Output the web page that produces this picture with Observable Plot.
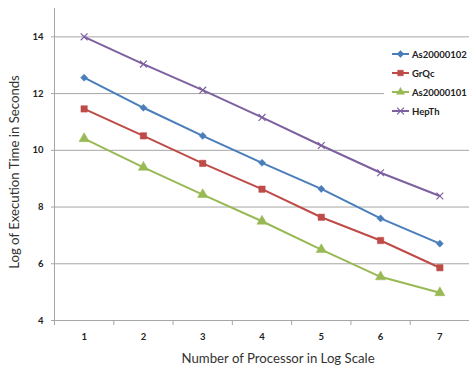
<!DOCTYPE html>
<html>
<head>
<meta charset="utf-8">
<script src="https://cdn.jsdelivr.net/npm/d3@7"></script>
<script src="https://cdn.jsdelivr.net/npm/@observablehq/plot@0.6"></script>
<style>
  body { margin: 0; background: #fff; }
  #wrap { position: relative; width: 469px; height: 369px; font-family: Lato, "Open Sans", sans-serif; }
  #legend { position: absolute; left: 384px; top: 44px; width: 85px; height: 76px; background: #fff; }
  .lg { position: absolute; left: 8px; height: 14px; display: flex; align-items: center; font-size: 9.5px; font-weight: bold; color: #222; }
  .lg svg { margin-right: 3px; }
  .xt { position: absolute; font-size: 13.2px; color: #333; white-space: nowrap; }
</style>
</head>
<body>
<div id="wrap"></div>
<script>
const processors = [1, 2, 3, 4, 5, 6, 7];
const seriesNames = ["As20000102", "GrQc", "As20000101", "HepTh"];
const as20000102 = [12.56, 11.50, 10.51, 9.56, 8.64, 7.60, 6.71];
const grqc       = [11.46, 10.51, 9.54, 8.63, 7.64, 6.82, 5.86];
const as20000101 = [10.41, 9.40, 8.44, 7.50, 6.50, 5.54, 4.98];
const hepth      = [14.00, 13.04, 12.12, 11.16, 10.17, 9.21, 8.39];
const yTicks = [4, 6, 8, 10, 12, 14];
const colors = ["#4a7ebb", "#be4b48", "#98b954", "#7d60a0"];
const symbols = ["diamond2", "square", "triangle", "times"];
const symbolR = [3.2, 3.6, 3.8, 3.2];
const xTitle = "Number of Processor in Log Scale";
const yTitle = "Log of Execution Time in Seconds";

const allValues = [as20000102, grqc, as20000101, hepth];
const data = [];
seriesNames.forEach((s, i) => processors.forEach((p, j) => data.push({series: s, x: p, y: allValues[i][j], idx: i})));

const bounds = processors.map(p => p - 0.5).concat([processors[processors.length - 1] + 0.5]);

const chart = Plot.plot({
  width: 469,
  height: 369,
  marginLeft: 54,
  marginRight: 0,
  marginTop: 8,
  marginBottom: 49,
  style: {fontFamily: "Lato, 'Open Sans', sans-serif", background: "#fff"},
  x: {type: "linear", domain: [0.5, 7.5]},
  y: {domain: [4, 15]},
  color: {domain: seriesNames, range: colors},
  symbol: {domain: seriesNames, range: symbols},
  marks: [
    Plot.ruleY(yTicks.filter(t => t > 4), {stroke: "#a6a6a6", strokeWidth: 1}),
    Plot.ruleY([4], {stroke: "#a6a6a6", strokeWidth: 1}),
    Plot.ruleX([0.5], {y1: 4, y2: 15, stroke: "#a6a6a6", strokeWidth: 1}),
    Plot.axisY({ticks: yTicks, tickSize: 3, tickPadding: 8, stroke: "#a6a6a6", fill: "#222", fontSize: 9.5, fontWeight: "bold", label: null}),
    Plot.axisX({ticks: bounds, tickSize: 5, tickFormat: () => "", stroke: "#a6a6a6", label: null}),
    Plot.axisX({ticks: processors, tickSize: 0, tickPadding: 13, tickFormat: d => String(d), fill: "#222", fontSize: 9.5, fontWeight: "bold", label: null}),
    Plot.line(data, {x: "x", y: "y", z: "series", stroke: "series", strokeWidth: 2}),
    ...seriesNames.map((s, i) => Plot.dot(data.filter(d => d.series === s), {
      x: "x", y: "y", symbol: "series", r: symbolR[i],
      fill: symbols[i] === "times" ? "none" : colors[i],
      stroke: colors[i], strokeWidth: symbols[i] === "times" ? 1.2 : 0.5
    }))
  ]
});

const wrap = document.getElementById("wrap");
wrap.appendChild(chart);

// axis titles
const xt = document.createElement("div");
xt.className = "xt";
xt.textContent = xTitle;
wrap.appendChild(xt);
xt.style.left = (278 - xt.offsetWidth / 2) + "px";
xt.style.top = "350px";

const yt = document.createElement("div");
yt.className = "xt";
yt.textContent = yTitle;
wrap.appendChild(yt);
yt.style.left = (14 - yt.offsetWidth / 2) + "px";
yt.style.top = (172 - yt.offsetHeight / 2) + "px";
yt.style.transform = "rotate(-90deg)";

// legend
const legend = document.createElement("div");
legend.id = "legend";
wrap.appendChild(legend);
const rowTops = [3, 22, 41, 60];
seriesNames.forEach((s, i) => {
  const row = document.createElement("div");
  row.className = "lg";
  row.style.top = rowTops[i] + "px";
  const svg = d3.create("svg").attr("width", 17).attr("height", 12);
  svg.append("line").attr("x1", 0).attr("x2", 17).attr("y1", 6).attr("y2", 6).attr("stroke", colors[i]).attr("stroke-width", 2);
  const symMap = {diamond2: d3.symbolDiamond2, square: d3.symbolSquare2, triangle: d3.symbolTriangle2, times: d3.symbolTimes};
  const area = Math.PI * symbolR[i] * symbolR[i];
  svg.append("path").attr("transform", "translate(8.5,6)")
    .attr("d", d3.symbol(symMap[symbols[i]], area)())
    .attr("fill", symbols[i] === "times" ? "none" : colors[i])
    .attr("stroke", colors[i]).attr("stroke-width", symbols[i] === "times" ? 1.2 : 0.5);
  row.appendChild(svg.node());
  const t = document.createElement("span");
  t.textContent = s;
  row.appendChild(t);
  legend.appendChild(row);
});
</script>
</body>
</html>
